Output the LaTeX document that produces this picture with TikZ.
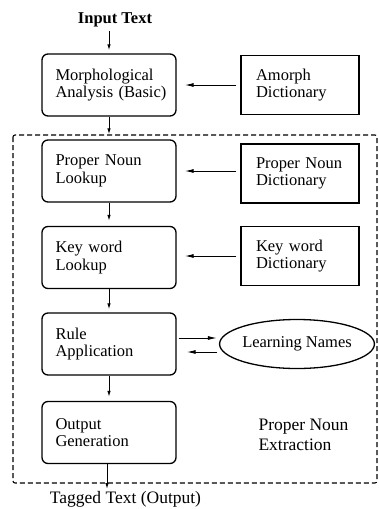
\documentclass[tikz,border=0pt]{standalone}
\usepackage{fontspec}
\setmainfont{Liberation Serif}
\usetikzlibrary{arrows.meta,shapes.geometric}
\begin{document}
\begin{tikzpicture}[x=1pt,y=-1pt,
  every node/.style={font=\fontsize{16.5}{17.5}\selectfont},
  procbox/.style={draw,line width=1.3pt,rounded corners=6pt,minimum height=62pt,
    text width=107pt,inner xsep=13.5pt,align=left},
  dictbox/.style={draw,line width=1.3pt,minimum height=59pt,
    text width=88pt,inner xsep=15pt,align=left},
  varr/.style={line width=1pt,-{Latex[length=6pt,width=3.5pt]}},
  harr/.style={line width=1pt,-{Latex[length=9pt,width=4pt]}},
  region/.style={line width=1.1pt,dash pattern=on 5pt off 3pt,rounded corners=2pt}]
\useasboundingbox (0,0) rectangle (378,509);
% dashed region
\draw[region] (13,135) rectangle (377,483);
% texts
\node[font=\fontsize{16.5}{17.5}\selectfont\bfseries] (in) at (115,20) {Input Text};
\node[font=\fontsize{17.5}{19}\selectfont] (out) at (125.5,499) {Tagged Text (Output)};
% left column
\node[procbox] (morph) at (109,85) {Morphological\\\mbox{Analysis (Basic)}};
\node[procbox] (pnl) at (109,171) {\mbox{Proper Noun}\\Lookup};
\node[procbox] (kwl) at (109,257.5) {Key word\\Lookup};
\node[procbox] (rule) at (109,344) {Rule\\Application};
\node[procbox] (gen) at (109,432.5) {Output\\Generation};
% right column
\node[dictbox] (amorph) at (300,85) {Amorph\\Dictionary};
\node[dictbox] (pnd) at (300,173.5) {\mbox{Proper Noun}\\Dictionary};
\node[dictbox] (kwd) at (300,256) {\mbox{Key word}\\Dictionary};
\node[draw,ellipse,line width=1.3pt,minimum width=150pt,minimum height=49pt,inner sep=0pt,
  font=\fontsize{16.5}{18}\selectfont] (learn) at (297,344) {Learning Names};
\node[anchor=west,align=left,font=\fontsize{17.5}{20}\selectfont] (ext) at (255,435) {Proper Noun\\Extraction};
% vertical arrows
\draw[varr] ([xshift=-6pt]in.south) -- ([yshift=3pt]morph.north);
\draw[varr,shorten >=5pt] (morph) -- (pnl);
\draw[varr,shorten >=5pt] (pnl) -- (kwl);
\draw[varr,shorten >=3pt] (kwl) -- (rule);
\draw[varr,shorten >=4pt] (rule) -- (gen);
\coordinate (outend) at (107,489);
\draw[varr] ([xshift=-2pt]gen.south) -- (outend);
% horizontal arrows
\draw[harr,shorten <=4pt,shorten >=8pt] (amorph.west) -- (morph.east);
\draw[harr,shorten <=4pt,shorten >=8pt] (pnd.west |- pnl.east) -- (pnl.east);
\draw[harr,shorten <=4pt,shorten >=8pt] (kwd.west) -- (kwd.west -| kwl.east);
\draw[harr,shorten <=2pt,shorten >=2pt] ([yshift=6pt]rule.east) -- ([yshift=6pt]rule.east -| learn.west);
\draw[harr,shorten <=2pt,shorten >=10pt] ([yshift=-8pt]rule.east -| learn.west) -- ([yshift=-8pt]rule.east);
\end{tikzpicture}
\end{document}
